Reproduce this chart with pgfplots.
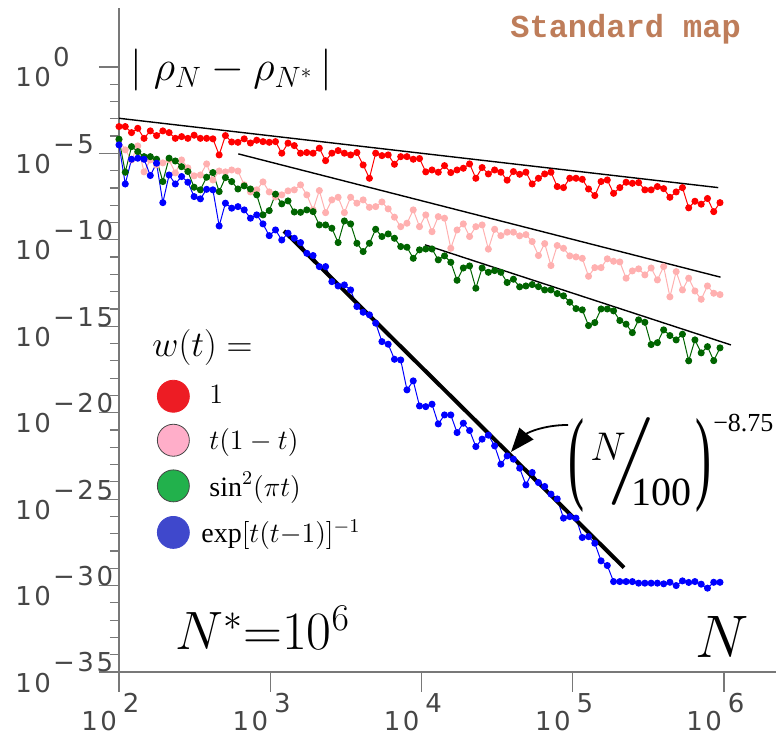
\documentclass[border=0pt]{standalone}
\usepackage{fix-cm}
\usepackage{fontspec}
\usepackage{graphicx}
\usepackage{pgfplots}
\usepackage{pgfplotstable}
\pgfplotsset{compat=1.18}
\usetikzlibrary{arrows.meta}
\setmainfont{Liberation Serif}
\newfontfamily\tickfont[LetterSpace=10]{DejaVu Sans}
\newfontfamily\mapfont{Liberation Mono}

\definecolor{axcol}{RGB}{120,120,120}
\definecolor{tkcol}{RGB}{70,70,70}
\definecolor{sred}{RGB}{255,0,0}
\definecolor{spink}{RGB}{255,176,176}
\definecolor{sgreen}{RGB}{0,100,0}
\definecolor{sblue}{RGB}{0,0,255}
\definecolor{lred}{RGB}{237,28,36}
\definecolor{lpink}{RGB}{255,174,201}
\definecolor{lgreen}{RGB}{34,177,76}
\definecolor{lblue}{RGB}{63,72,204}
\definecolor{ledge}{RGB}{70,70,70}
\definecolor{mapcol}{RGB}{190,125,90}

% tick labels: "10" + raised exponent
\newcommand\tkf{\tickfont\fontsize{13}{15}\selectfont\color{tkcol}}
\newcommand\ylab[1]{{\tkf 10}\hspace{1pt}\raisebox{10pt}{\tkf #1}}
\newcommand\xlab[1]{\llap{\tkf 10\hspace{1pt}}\rlap{\hspace{2pt}\raisebox{8.5pt}{\tkf #1}}}

% log10 N, log10 |rho_N - rho_N*| for the four weights
\pgfplotstableread{
lx     red    pink    green   blue
2.0000 -3.45  -4.22   -4.18   -4.51
2.0414 -3.45  -4.80   -6.09   -6.77
2.0828 -3.80  -5.38   -4.61   -5.34
2.1242 -3.55  -4.57   -4.90   -5.28
2.1656 -4.13  -6.07   -5.19   -5.34
2.2070 -3.70  -5.38   -5.19   -6.28
2.2484 -3.97  -5.67   -5.34   -5.57
2.2898 -3.70  -5.55   -6.63   -7.85
2.3311 -3.80  -5.38   -5.28   -6.25
2.3725 -4.13  -6.13   -5.44   -6.77
2.4139 -4.03  -5.38   -5.77   -6.34
2.4553 -4.13  -5.84   -6.05   -6.67
2.4967 -3.95  -6.30   -6.96   -7.50
2.5381 -4.13  -6.25   -7.11   -7.63
2.5795 -4.13  -5.61   -6.38   -7.08
2.6209 -4.16  -6.54   -6.11   -7.11
2.6623 -5.09  -6.02   -7.21   -9.20
2.7037 -3.97  -6.07   -6.40   -7.88
2.7451 -4.34  -5.96   -6.63   -8.17
2.7865 -4.36  -6.02   -7.06   -8.08
2.8279 -4.16  -6.82   -6.88   -8.27
2.8693 -4.40  -7.23   -7.06   -8.75
2.9106 -4.24  -7.11   -7.40   -8.56
2.9520 -4.32  -6.65   -8.56   -9.08
2.9934 -4.36  -7.23   -8.31   -9.76
3.0348 -4.32  -7.52   -7.36   -9.43
3.0762 -4.99  -7.40   -7.92  -10.01
3.1176 -4.41  -7.17   -7.75   -9.62
3.1590 -4.55  -7.11   -8.39   -9.91
3.2004 -4.99  -6.82   -8.41  -10.16
3.2418 -4.95  -7.40   -8.27  -10.78
3.2832 -4.99  -8.27   -8.37  -10.91
3.3246 -4.70  -7.15   -9.14  -11.55
3.3660 -5.42  -8.43   -9.14  -11.55
3.4074 -4.99  -7.69   -9.33  -12.42
3.4488 -4.84  -7.54  -10.16  -12.67
3.4901 -4.99  -8.43   -8.91  -12.61
3.5315 -5.09  -7.54   -9.08  -12.90
3.5729 -4.95  -7.88  -10.20  -13.86
3.6143 -5.67  -7.69  -10.68  -14.19
3.6557 -6.44  -8.12  -10.20  -14.34
3.6971 -4.99  -8.08   -9.39  -14.82
3.7385 -5.13  -7.81   -9.81  -15.89
3.7799 -5.09  -8.21   -9.66  -16.04
3.8213 -5.63  -8.69   -9.91  -16.91
3.8627 -5.19  -9.24  -10.39  -16.95
3.9041 -5.19  -9.04  -10.43  -18.68
3.9455 -5.34  -8.27  -11.07  -18.16
3.9869 -5.30  -9.24  -10.58  -19.61
4.0283 -6.07  -8.56  -10.53  -19.65
4.0696 -5.96  -9.53  -10.53  -19.51
4.1110 -6.09  -8.66  -11.16  -20.65
4.1524 -5.71  -8.75  -10.93  -20.13
4.1938 -6.11 -10.49  -11.30  -20.13
4.2352 -5.96  -9.43  -12.34  -21.15
4.2766 -5.86  -9.08  -11.63  -20.61
4.3180 -5.61  -9.81  -11.51  -21.03
4.3594 -6.44  -9.24  -12.80  -21.96
4.4008 -5.82  -9.14  -11.63  -21.53
4.4422 -6.19 -10.54  -11.88  -21.30
4.4836 -5.96  -9.39  -11.78  -21.92
4.5250 -6.09  -9.76  -11.88  -22.98
4.5664 -6.55  -9.56  -12.47  -22.50
4.6078 -6.05  -9.56  -12.28  -22.69
4.6491 -6.21  -9.77  -12.72  -23.21
4.6905 -6.09  -9.70  -12.67  -24.18
4.7319 -6.77 -10.10  -12.59  -23.46
4.7733 -6.44 -10.91  -12.71  -24.04
4.8147 -6.19 -10.22  -12.90  -24.27
4.8561 -6.09 -11.49  -12.90  -24.71
4.8975 -6.92 -10.33  -13.11  -24.99
4.9389 -6.98 -10.49  -13.24  -26.10
4.9803 -6.44 -10.93  -13.61  -26.01
5.0217 -6.44 -10.99  -13.98  -26.10
5.0631 -6.50 -11.07  -14.05  -27.22
5.1045 -7.06 -12.11  -14.96  -27.17
5.1459 -7.44 -11.61  -14.79  -27.55
5.1873 -6.63 -11.61  -14.00  -28.57
5.2286 -6.54 -11.10  -14.00  -28.84
5.2700 -7.31 -11.24  -14.11  -29.77
5.3114 -6.98 -11.28  -14.67  -29.77
5.3528 -6.67 -12.22  -14.88  -29.77
5.3942 -6.73 -11.80  -15.37  -29.77
5.4356 -6.69 -11.68  -14.63  -29.86
5.4770 -7.11 -12.03  -14.77  -29.86
5.5184 -7.11 -11.63  -16.06  -29.86
5.5598 -6.92 -12.32  -15.95  -29.86
5.6012 -7.04 -11.55  -15.21  -29.90
5.6426 -7.54 -13.30  -15.54  -29.81
5.6840 -7.23 -11.84  -15.79  -30.00
5.7254 -6.98 -12.90  -15.46  -29.73
5.7668 -8.15 -12.22  -17.00  -29.82
5.8081 -7.77 -12.96  -15.79  -29.77
5.8495 -7.94 -13.44  -16.54  -29.92
5.8909 -7.61 -12.67  -16.18  -30.15
5.9323 -8.37 -13.09  -16.99  -29.81
5.9737 -7.85 -13.17  -16.25  -29.81
}\rhodata

\begin{document}
\begin{tikzpicture}
\begin{axis}[
  scale only axis,
  width=328.5pt, height=332pt,
  xmin=2, xmax=6.344, ymin=-35, ymax=3.41,
  axis lines*=left,
  axis line style={axcol, line width=0.6pt},
  xtick={2,3,4,5,6},
  ytick={-35,-30,-25,-20,-15,-10,-5,0},
  minor ytick={-34,-33,...,-1},
  xticklabel=\empty, yticklabel=\empty,
  tick align=outside,
  major tick length=10pt, minor tick length=4.5pt,
  tick style={axcol, line width=0.6pt},
  clip=false,
  legend cell align=left,
  legend style={at={(axis cs:2.251,-18.10)}, anchor=north west,
    draw=none, fill=none, inner sep=0pt, row sep=6pt, column sep=8pt,
    font=\fontsize{14}{16}\selectfont},
]
\addlegendimage{only marks, mark=*, mark size=8pt, mark options={draw=lred, fill=lred}}
\addlegendentry{$1$}
\addlegendimage{only marks, mark=*, mark size=8pt, mark options={draw=ledge, fill=lpink}}
\addlegendentry{$t(1-t)$}
\addlegendimage{only marks, mark=*, mark size=8pt, mark options={draw=ledge, fill=lgreen}}
\addlegendentry{$\sin^2(\pi t)$}
\addlegendimage{only marks, mark=*, mark size=8pt, mark options={draw=lblue, fill=lblue}}
\addlegendentry{\hspace{-4pt}$\exp[t(t{-}1)]^{-1}$}

\addplot[sred, line width=0.5pt, mark=*, mark size=1.5pt, forget plot] table[x=lx, y=red] {\rhodata};
\addplot[spink, line width=0.5pt, mark=*, mark size=1.5pt, forget plot] table[x=lx, y=pink] {\rhodata};
\addplot[sgreen, line width=0.5pt, mark=*, mark size=1.5pt, forget plot] table[x=lx, y=green] {\rhodata};
\addplot[sblue, line width=0.5pt, mark=*, mark size=1.5pt, forget plot] table[x=lx, y=blue] {\rhodata};

% guide lines
\addplot[black, line width=0.7pt, forget plot] coordinates {(2,-2.97) (5.962,-6.98)};
\addplot[black, line width=0.7pt, forget plot] coordinates {(2.789,-5.03) (5.977,-12.16)};
\addplot[black, line width=0.7pt, forget plot] coordinates {(4.023,-10.29) (6.046,-16.08)};
\addplot[black, line width=2pt, forget plot] coordinates {(3.091,-9.49) (5.339,-28.96)};

% tick labels
\node[anchor=base west, inner sep=0pt, yshift=-10pt] at (axis cs:1.312,0) {\ylab{0}};
\node[anchor=base west, inner sep=0pt, yshift=-10pt] at (axis cs:1.312,-5) {\ylab{−5}};
\node[anchor=base west, inner sep=0pt, yshift=-10pt] at (axis cs:1.312,-10) {\ylab{−10}};
\node[anchor=base west, inner sep=0pt, yshift=-10pt] at (axis cs:1.312,-15) {\ylab{−15}};
\node[anchor=base west, inner sep=0pt, yshift=-10pt] at (axis cs:1.312,-20) {\ylab{−20}};
\node[anchor=base west, inner sep=0pt, yshift=-10pt] at (axis cs:1.312,-25) {\ylab{−25}};
\node[anchor=base west, inner sep=0pt, yshift=-10pt] at (axis cs:1.312,-30) {\ylab{−30}};
\node[anchor=base west, inner sep=0pt, yshift=-10pt] at (axis cs:1.312,-35) {\ylab{−35}};
\node[anchor=base, inner sep=0pt, yshift=-29pt] at (axis cs:2,-35) {\xlab{2}};
\node[anchor=base, inner sep=0pt, yshift=-29pt] at (axis cs:3,-35) {\xlab{3}};
\node[anchor=base, inner sep=0pt, yshift=-29pt] at (axis cs:4,-35) {\xlab{4}};
\node[anchor=base, inner sep=0pt, yshift=-29pt] at (axis cs:5,-35) {\xlab{5}};
\node[anchor=base, inner sep=0pt, yshift=-29pt] at (axis cs:6,-35) {\xlab{6}};

% annotations
\node[anchor=base west, inner sep=0pt] at (axis cs:2.073,-0.81)
  {\fontsize{21}{25}\selectfont $|\;\rho_N - \rho_{N^{*}}\,|$};
\node[anchor=base west, inner sep=0pt] at (axis cs:2.218,-16.77)
  {\fontsize{18}{20}\selectfont $w(t) =$};
\node[anchor=base west, inner sep=0pt] at (axis cs:2.370,-33.72)
  {\fontsize{27}{30}\selectfont $N^{*}{=}10^{6}$};
\node[anchor=base west, inner sep=0pt] at (axis cs:5.808,-34.18)
  {\fontsize{30}{34}\selectfont $N$};
\node[anchor=base west, inner sep=0pt, text=mapcol] at (axis cs:4.585,1.677)
  {\mapfont\bfseries\fontsize{16}{18}\selectfont Standard map};
\node[anchor=west, inner sep=0pt] at (axis cs:4.969,-23.02)
  {\fontsize{20}{24}\selectfont\raisebox{-8.5pt}{\scalebox{1.2}[2.6]{(}}\hspace{3pt}\raisebox{6.5pt}{$N$}\hspace{-9pt}\raisebox{-5pt}{\scalebox{2.6}[2.2]{$/$}}\hspace{-12pt}\raisebox{-16pt}{100}\hspace{2pt}\raisebox{-8.5pt}{\scalebox{1.2}[2.6]{)}}};
\node[anchor=base west, inner sep=0pt] at (axis cs:5.927,-21.11)
  {\fontsize{13}{15}\selectfont −8.75};
\draw[line width=0.9pt, -{Triangle[length=12pt, width=9pt]}]
  (axis cs:4.969,-20.71) to[out=180, in=50] (axis cs:4.592,-22.27);
\end{axis}
\pgfresetboundingbox
\path[use as bounding box] (-59.5pt,-33pt) rectangle (328.5pt,336pt);
\end{tikzpicture}
\end{document}
